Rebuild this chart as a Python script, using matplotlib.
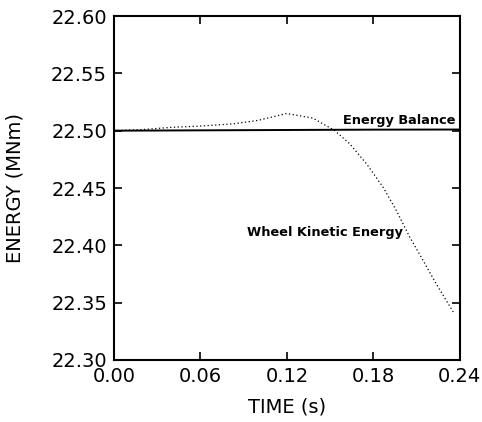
import matplotlib
matplotlib.use("Agg")
import matplotlib.pyplot as plt
import numpy as np

# values
time_balance = [0.0, 0.06, 0.12, 0.18, 0.24]
energy_balance = [22.500, 22.5003, 22.5006, 22.5009, 22.501]

time_wheel = [0.0, 0.02, 0.041, 0.06, 0.083, 0.10, 0.1198, 0.138, 0.1533,
              0.1637, 0.1753, 0.1868, 0.1961, 0.2053, 0.2146, 0.2238, 0.2354]
energy_wheel = [22.500, 22.501, 22.503, 22.504, 22.506, 22.509, 22.515, 22.511, 22.500,
                22.4884, 22.471, 22.4506, 22.430, 22.407, 22.3866, 22.366, 22.3419]

x_ticks = [0.00, 0.06, 0.12, 0.18, 0.24]
y_ticks = [22.30, 22.35, 22.40, 22.45, 22.50, 22.55, 22.60]

fig = plt.figure(figsize=(4.82, 4.22), dpi=100)
ax = fig.add_axes([0.2365, 0.147, 0.7175, 0.815])

ax.plot(time_balance, energy_balance, color='black', lw=1.4)
ax.plot(time_wheel, energy_wheel, color='black', lw=0.9, linestyle=(0, (1, 2)))

ax.text(0.2367, 22.5085, 'Energy Balance', fontsize=9.3, fontweight='bold', ha='right', va='center')
ax.text(0.0923, 22.411, 'Wheel Kinetic Energy', fontsize=9.3, fontweight='bold', ha='left', va='center')

ax.set_xlim(0, 0.24)
ax.set_ylim(22.30, 22.60)
ax.set_xticks(x_ticks)
ax.set_yticks(y_ticks)
ax.set_xticklabels([f'{t:.2f}' for t in x_ticks])
ax.set_yticklabels([f'{v:.2f}' for v in y_ticks])
ax.tick_params(direction='in', length=6, width=1.2, top=True, right=True,
               labelsize=14, pad=5)
for s in ax.spines.values():
    s.set_linewidth(1.5)

ax.set_xlabel('TIME (s)', fontsize=14, labelpad=8)
ax.set_ylabel('ENERGY (MNm)', fontsize=14, labelpad=19)

fig.savefig('out.png', dpi=100)
